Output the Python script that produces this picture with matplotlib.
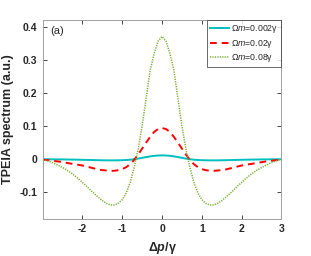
import numpy as np
import matplotlib
matplotlib.use('Agg')
import matplotlib.pyplot as plt

plt.rcParams['font.family'] = ['Liberation Sans', 'DejaVu Sans']
plt.rcParams['mathtext.fontset'] = 'custom'
plt.rcParams['mathtext.it'] = 'Liberation Sans:italic'
plt.rcParams['mathtext.bfit'] = 'Liberation Sans:italic:bold'
plt.rcParams['mathtext.rm'] = 'Liberation Sans'
plt.rcParams['axes.unicode_minus'] = False

# detuning grid (-3 .. 3, step 0.1)
dp = [round(-3 + 0.1 * i, 1) for i in range(61)]

# values
om_002 = [-0.0001, -0.0002, -0.0003, -0.0004, -0.0005, -0.0007, -0.0009, -0.0011, -0.0013, -0.0015,
          -0.0018, -0.0021, -0.0024, -0.0027, -0.0030, -0.0032, -0.0034, -0.0035, -0.0035, -0.0033,
          -0.0030, -0.0024, -0.0015, -0.0002, 0.0018, 0.0042, 0.0064, 0.0085, 0.0102, 0.0112,
          0.0115,
          0.0112, 0.0102, 0.0085, 0.0064, 0.0042, 0.0018, -0.0002, -0.0015, -0.0024, -0.0030,
          -0.0033, -0.0035, -0.0035, -0.0034, -0.0032, -0.0030, -0.0027, -0.0024, -0.0021, -0.0018,
          -0.0015, -0.0013, -0.0011, -0.0009, -0.0007, -0.0005, -0.0004, -0.0003, -0.0002, -0.0001]

om_02 = [-0.001, -0.0025, -0.004, -0.0055, -0.007, -0.009, -0.011, -0.013, -0.015, -0.017,
         -0.019, -0.022, -0.025, -0.028, -0.031, -0.033, -0.034, -0.035, -0.035, -0.033,
         -0.030, -0.024, -0.015, -0.002, 0.014, 0.032, 0.050, 0.067, 0.082, 0.091,
         0.094,
         0.091, 0.082, 0.067, 0.050, 0.032, 0.014, -0.002, -0.015, -0.024, -0.030,
         -0.033, -0.035, -0.035, -0.034, -0.033, -0.031, -0.028, -0.025, -0.022, -0.019,
         -0.017, -0.015, -0.013, -0.011, -0.009, -0.007, -0.0055, -0.004, -0.0025, -0.001]

om_08 = [-0.001, -0.004, -0.008, -0.013, -0.019, -0.025, -0.032, -0.040, -0.049, -0.059,
         -0.070, -0.081, -0.093, -0.104, -0.115, -0.125, -0.133, -0.138, -0.138, -0.133,
         -0.122, -0.102, -0.070, -0.025, 0.030, 0.100, 0.183, 0.267, 0.318, 0.356,
         0.370,
         0.356, 0.318, 0.267, 0.183, 0.100, 0.030, -0.025, -0.070, -0.102, -0.122,
         -0.133, -0.138, -0.138, -0.133, -0.125, -0.115, -0.104, -0.093, -0.081, -0.070,
         -0.059, -0.049, -0.040, -0.032, -0.025, -0.019, -0.013, -0.008, -0.004, -0.001]

labels = ['Ω$m$=0.002γ', 'Ω$m$=0.02γ', 'Ω$m$=0.08γ']


def main():
    fig = plt.figure(figsize=(3.11, 2.56), dpi=100)
    ax = fig.add_axes([0.137, 0.145, 0.768, 0.777])

    ax.plot(dp, om_002, color='#00bfbf', lw=1.4, label=labels[0])
    ax.plot(dp, om_02, color='#ff0000', ls=(0, (3.5, 2.5)), lw=1.4, label=labels[1])
    ax.plot(dp, om_08, color='#77ac30', ls=(0, (0.8, 0.8)), lw=1.1, label=labels[2])

    ax.set_xlim(-3, 3)
    ax.set_ylim(-0.18, 0.42)
    ax.set_xticks([-2, -1, 0, 1, 2, 3])
    ax.set_yticks([-0.1, 0, 0.1, 0.2, 0.3, 0.4])
    ax.set_yticklabels(['-0.1', '0', '0.1', '0.2', '0.3', '0.4'])
    ax.tick_params(direction='in', top=True, right=True, length=3, width=0.6,
                   colors='#262626', labelsize=7.5, pad=4)
    for lab in ax.get_xticklabels() + ax.get_yticklabels():
        lab.set_fontweight('bold')
    for s in ax.spines.values():
        s.set_color('#a0a0a0')
        s.set_linewidth(0.7)

    ax.set_xlabel(r'Δ$\mathbfit{p}$/γ', fontsize=9, fontweight='bold', color='#262626')
    ax.set_ylabel('TPEIA spectrum (a.u.)', fontsize=9, fontweight='bold', color='#262626')
    ax.text(0.03, 0.93, '(a)', transform=ax.transAxes, fontsize=8, color='#262626')

    leg = ax.legend(loc='upper right', fontsize=6.3, frameon=True, fancybox=False,
                    borderaxespad=0, handlelength=2.2, handletextpad=0.2,
                    labelspacing=0.3, borderpad=0.35)
    leg.get_frame().set_edgecolor('#262626')
    leg.get_frame().set_linewidth(0.6)
    for t in leg.get_texts():
        t.set_color('#262626')

    fig.savefig('out.png', dpi=100)


if __name__ == '__main__':
    main()
